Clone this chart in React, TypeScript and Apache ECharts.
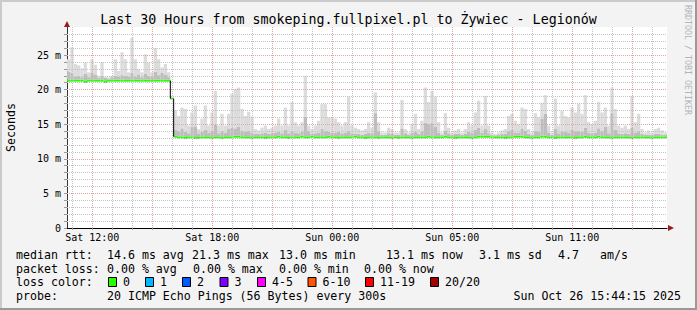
import React, { useEffect, useRef } from 'react';
import * as echarts from 'echarts';

// time axis: hours elapsed since Sat 00:00 (local, CEST)
const START_HOUR = 10.7375; // Sat 10:44:15
const SPAN_HOURS = 30;
const X_TICK_HOURS = [12, 18, 24, 30, 36];
const X_TICK_LABELS = ['Sat 12:00', 'Sat 18:00', 'Sun 00:00', 'Sun 05:00', 'Sun 11:00'];
const Y_TICKS = [0, 5, 10, 15, 20, 25];
const Y_MAX = 29.05;

// one value per 10-minute column (180 columns), milliseconds
const median = [
  21.3, 21.3, 21.3, 21.3, 21.3, 21.1, 21.3, 21.3, 21.3, 21.3, 21.3, 21.1, 21.3, 21.3, 21.3,
  21.3, 21.3, 21.3, 21.3, 21.3, 21.3, 21.3, 21.3, 21.3, 21.3, 21.3, 21.3, 21.3, 21.3, 21.3,
  21.3, 18.7,
  13.2, 13.1, 13.1, 13.0, 13.1, 13.1, 13.0, 13.0, 13.1, 13.1, 13.1, 13.0, 13.1, 13.1, 13.0,
  13.1, 13.1, 13.1, 13.2, 13.2, 13.1, 13.1, 13.1, 13.0, 13.1, 13.1, 13.1, 13.0, 13.1, 13.1,
  13.1, 13.2, 13.1, 13.1, 13.0, 13.1, 13.1, 13.1, 13.2, 13.1, 13.1, 13.2, 13.1, 13.1, 13.1,
  13.1, 13.2, 13.1, 13.1, 13.0, 13.1, 13.1, 13.1, 13.1, 13.2, 13.1, 13.1, 13.0, 13.1, 13.1,
  13.1, 13.0, 13.1, 13.1, 13.1, 13.0, 13.1, 13.0, 13.1, 13.1, 13.1, 13.0, 13.1, 13.1, 13.1,
  13.1, 13.2, 13.1, 13.1, 13.1, 13.1, 13.2, 13.1, 13.1, 13.0, 13.1, 13.1, 13.1, 13.1, 13.0,
  13.1, 13.2, 13.2, 13.2, 13.2, 13.1, 13.1, 13.1, 13.1, 13.0, 13.1, 13.1, 13.2, 13.2, 13.2,
  13.1, 13.1, 13.0, 13.1, 13.1, 13.2, 13.2, 13.1, 13.1, 13.0, 13.1, 13.1, 13.1, 13.1, 13.1,
  13.0, 13.1, 13.1, 13.2, 13.1, 13.1, 13.1, 13.2, 13.1, 13.1, 13.1, 13.0, 13.1, 13.1, 13.1,
  13.1, 13.1, 13.0, 13.1, 13.1, 13.1, 13.1, 13.1, 13.0, 13.1, 13.1, 13.1, 13.1,
];

// darker smoke (inner pings)
const smokeMid = [
  22.6, 22.4, 21.9, 22.0, 21.8, 22.3, 21.8, 22.5, 22.2, 21.7, 22.0, 21.7, 21.6, 21.8, 22.0,
  21.9, 22.1, 22.0, 21.9, 22.4, 21.9, 22.2, 21.8, 22.3, 22.0, 21.9, 22.6, 22.1, 22.4, 22.2,
  21.8, 18.9,
  14.2, 14.0, 14.4, 13.9, 13.7, 14.6, 14.7, 13.7, 13.9, 14.2, 13.8, 14.0, 14.9,
  13.7, 14.0, 13.8, 14.3, 14.5, 14.4, 14.6, 14.1, 13.9, 14.0, 13.8, 13.6, 13.6, 13.7, 13.8,
  13.6, 13.7, 13.8, 13.9, 13.7, 14.2, 13.7, 14.0, 13.8, 13.7, 13.9, 16.1, 14.0, 13.6, 13.7,
  13.8, 14.3, 14.0, 13.9, 13.8, 13.8, 13.9, 13.7, 13.8, 14.1, 13.7, 13.6, 13.6, 13.5, 13.6,
  13.8, 13.7, 16.6, 14.0, 13.5, 13.5, 13.7, 13.6, 13.5, 13.5, 14.4, 13.7, 13.5, 13.8, 13.9,
  13.6, 14.0, 15.2, 15.0, 15.2, 14.6, 13.8, 13.5, 14.1, 13.7, 13.5, 13.6, 13.6, 13.5, 13.6,
  13.9, 13.8, 14.2, 14.5, 13.8, 14.3, 13.7, 13.5, 13.4, 13.5, 13.6, 13.6, 14.0, 14.2, 13.8,
  13.8, 14.4, 14.1, 13.6, 13.5, 14.0, 13.9, 15.8, 16.5, 13.8, 13.5, 14.3, 13.7, 14.0, 13.9,
  13.8, 14.2, 14.0, 14.1, 13.9, 14.5, 13.8, 13.7, 13.8, 14.4, 14.0, 14.6, 13.7, 16.6, 14.2,
  13.7, 13.6, 13.7, 13.6, 14.5, 13.8, 14.0, 13.6, 13.5, 13.5, 13.5, 13.6, 13.6, 13.5, 13.5,
];

// light smoke (slowest ping)
const smokeHigh = [
  24.4, 26.1, 23.7, 23.5, 23.1, 23.9, 22.5, 24.4, 23.6, 22.0, 24.0, 21.9, 21.8, 22.0, 24.4,
  22.7, 25.4, 24.4, 22.5, 27.5, 24.4, 23.0, 22.5, 25.1, 23.9, 22.5, 26.0, 24.4, 23.2, 23.7,
  22.5, 19.0, 17.0, 16.2, 17.4, 17.2, 14.8, 16.7, 17.7, 14.3, 15.8, 17.7, 14.8, 16.7, 19.8,
  14.8, 16.5, 14.8, 16.5, 19.4, 20.1, 20.3, 17.2, 16.2, 16.8, 16.1, 14.3, 14.1, 14.5, 14.8,
  14.3, 14.5, 14.8, 15.8, 14.8, 17.4, 14.8, 18.2, 15.3, 14.8, 15.3, 22.0, 14.8, 14.3, 14.8,
  15.5, 17.9, 17.9, 16.0, 16.0, 15.8, 15.3, 14.8, 15.3, 19.0, 14.8, 14.5, 14.3, 14.1, 14.3,
  15.3, 14.5, 19.6, 15.3, 13.8, 13.8, 14.5, 14.3, 13.8, 13.8, 18.5, 14.3, 13.8, 15.0, 16.5,
  14.3, 15.5, 20.3, 18.2, 19.8, 19.0, 15.3, 13.8, 16.6, 14.5, 13.8, 14.1, 14.3, 13.8, 14.3,
  15.3, 14.8, 16.7, 18.4, 14.8, 19.1, 14.8, 13.8, 13.6, 13.8, 14.1, 14.3, 16.2, 16.5, 15.5,
  15.0, 17.4, 17.2, 14.3, 13.8, 16.6, 16.0, 18.1, 19.2, 14.8, 13.8, 18.7, 14.8, 16.95, 16.2,
  16.0, 17.4, 16.7, 18.0, 16.5, 19.2, 15.3, 15.0, 15.5, 18.2, 16.7, 17.4, 14.8, 20.3, 17.2,
  14.8, 14.5, 14.8, 14.3, 19.1, 15.3, 16.5, 14.3, 13.8, 14.1, 13.8, 14.3, 14.5, 14.1, 13.8,
];

const TITLE = 'Last 30 Hours from smokeping.fullpixel.pl to Żywiec - Legionów';
const rttStats = ['14.6 ms avg', '21.3 ms max', '13.0 ms min', '13.1 ms now', '3.1 ms sd', '4.7', 'am/s'];
const lossStats = ['0.00 % avg', '0.00 % max', '0.00 % min', '0.00 % now'];
const lossLabels = ['0', '1', '2', '3', '4-5', '6-10', '11-19', '20/20'];
const lossColors = ['#26ff00', '#00b8ff', '#0059ff', '#7e00ff', '#ff00ff', '#ff5500', '#ff0000', '#a10000'];
const PROBE = '20 ICMP Echo Pings (56 Bytes) every 300s';
const STAMP = 'Sun Oct 26 15:44:15 2025';

const MONO = '"DejaVu Sans Mono", monospace';
const LINE_HALF = 0.15;

export default function App() {
  const ref = useRef<HTMLDivElement>(null);

  useEffect(() => {
    if (!ref.current) return;
    const chart = echarts.init(ref.current, null, { renderer: 'svg' });

    const n = median.length;
    const cats = median.map((_, i) => String(i));
    const stepH = SPAN_HOURS / n;

    const base = median.map((m) => m - LINE_HALF);
    const green = median.map(() => 2 * LINE_HALF);
    const dark = median.map((m, i) => Math.max(0, smokeMid[i] - (m + LINE_HALF)));
    const light = median.map((m, i) => Math.max(0, smokeHigh[i] - Math.max(smokeMid[i], m + LINE_HALF)));

    // transitions where the median jumps by a lot: black vertical connectors
    const jumps: any[] = [];
    for (let i = 1; i < n; i++) {
      if (Math.abs(median[i] - median[i - 1]) > 1) {
        const t = START_HOUR + i * stepH;
        jumps.push({
          type: 'line',
          xAxisIndex: 1,
          yAxisIndex: 0,
          data: [[t, median[i - 1]], [t, median[i]]],
          showSymbol: false,
          lineStyle: { color: '#000', width: 1 },
          z: 5,
          silent: true,
        });
      }
    }

    const RED = '#e6a3a3';
    const GREY = '#c4c4c4';
    const gridLines: any[] = [];
    for (let h = Math.ceil(START_HOUR); h < START_HOUR + SPAN_HOURS; h++) {
      gridLines.push({ xAxis: h, lineStyle: { color: h % 3 === 0 ? RED : GREY, type: [1, 1], width: 1 } });
    }
    for (let v = 1; v < Y_MAX - 0.5; v++) {
      gridLines.push({ yAxis: v, lineStyle: { color: v % 5 === 0 ? RED : GREY, type: [1, 1], width: 1 } });
    }

    const yTickVals: number[] = [];
    for (let v = 0; v < Y_MAX - 0.5; v++) yTickVals.push(v);
    const xTickVals: number[] = [];
    for (let h = Math.ceil(START_HOUR); h < START_HOUR + SPAN_HOURS; h++) xTickVals.push(h);

    const graphic: any[] = [];
    // frame
    graphic.push({ type: 'rect', shape: { x: 0, y: 0, width: 697, height: 2 }, style: { fill: '#cbcbcb' }, silent: true });
    graphic.push({ type: 'rect', shape: { x: 0, y: 0, width: 2, height: 310 }, style: { fill: '#cbcbcb' }, silent: true });
    graphic.push({ type: 'rect', shape: { x: 695, y: 0, width: 2, height: 310 }, style: { fill: '#999' }, silent: true });
    graphic.push({ type: 'rect', shape: { x: 0, y: 308, width: 697, height: 2 }, style: { fill: '#999' }, silent: true });
    // arrows
    graphic.push({ type: 'polygon', shape: { points: [[64, 27], [70, 27], [67, 21]] }, style: { fill: '#9b1c1c' }, silent: true, z: 10 });
    graphic.push({ type: 'polygon', shape: { points: [[668, 225], [668, 231], [674, 228]] }, style: { fill: '#9b1c1c' }, silent: true, z: 10 });
    // title
    graphic.push({ type: 'text', style: { text: TITLE, x: 348.5, y: 19, align: 'center', verticalAlign: 'middle', font: `13.3px ${MONO}`, fill: '#000' } });
    // y name
    graphic.push({ type: 'text', x: 10.5, y: 127.5, rotation: Math.PI / 2, style: { text: 'Seconds', x: 0, y: 0, align: 'center', verticalAlign: 'middle', font: `11.6px ${MONO}`, fill: '#000' } });
    // watermark
    graphic.push({ type: 'text', x: 688, y: 60, rotation: -Math.PI / 2, style: { text: 'RRDTOOL / TOBI OETIKER', x: 0, y: 0, align: 'center', verticalAlign: 'middle', font: `8.3px ${MONO}`, fill: '#b4b4b4' } });

    const F = `11.6px ${MONO}`;
    const addText = (text: string, x: number, y: number, align = 'left') =>
      graphic.push({ type: 'text', style: { text, x, y, align, verticalAlign: 'middle', font: F, fill: '#000' } });

    const y1 = 254.5, y2 = 268.5, y3 = 282, y4 = 296;
    addText('median rtt:', 16, y1);
    const rttX = [107, 192, 279, 386, 479, 558, 600];
    rttStats.forEach((s, i) => addText(s, rttX[i], y1));
    addText('packet loss:', 16, y2);
    const lossX = [107, 193, 279, 364];
    lossStats.forEach((s, i) => addText(s, lossX[i], y2));
    addText('loss color:', 16, y3);
    const boxX = [108, 145, 182, 219.5, 257, 307.5, 365, 430];
    lossLabels.forEach((s, i) => {
      graphic.push({ type: 'rect', shape: { x: boxX[i] + 0.5, y: 277.5, width: 8, height: 9 }, style: { fill: lossColors[i], stroke: '#000', lineWidth: 1 }, silent: true });
      addText(s, boxX[i] + 15, y3);
    });
    addText('probe:', 16, y4);
    addText(PROBE, 107, y4);
    addText(STAMP, 681, y4, 'right');

    const option: any = {
      animation: false,
      backgroundColor: '#f3f3f3',
      grid: { left: 67, right: 30, top: 27, bottom: 82, show: true, backgroundColor: '#ffffff', borderWidth: 0 },
      xAxis: [
        {
          type: 'category',
          data: cats,
          position: 'top',
          show: false,
          boundaryGap: true,
        },
        {
          type: 'value',
          position: 'bottom',
          min: START_HOUR,
          max: START_HOUR + SPAN_HOURS,
          axisLine: { show: true, onZero: false, lineStyle: { color: '#000', width: 1 } },
          axisTick: { show: true, customValues: xTickVals, length: 2, lineStyle: { color: '#999' } },
          axisLabel: {
            show: true,
            customValues: X_TICK_HOURS,
            formatter: (v: number) => {
              const k = X_TICK_HOURS.findIndex((h) => Math.abs(h - v) < 1e-6);
              return k >= 0 ? X_TICK_LABELS[k] : '';
            },
            fontFamily: MONO,
            fontSize: 10,
            color: '#000',
            margin: 4,
          },
          splitLine: { show: false },
        },
      ],
      yAxis: {
        type: 'value',
        min: 0,
        max: Y_MAX,
        axisLine: { show: true, lineStyle: { color: '#333', width: 1 } },
        axisTick: { show: true, customValues: yTickVals, length: 3, lineStyle: { color: '#999' } },
        axisLabel: {
          customValues: Y_TICKS,
          formatter: (v: number) => (v === 0 ? '0' : `${v} m`),
          fontFamily: MONO,
          fontSize: 10,
          color: '#000',
          margin: 6,
        },
        splitLine: { show: false },
      },
      series: [
        {
          type: 'line',
          xAxisIndex: 1,
          yAxisIndex: 0,
          data: [[START_HOUR, 0]],
          showSymbol: false,
          lineStyle: { opacity: 0 },
          z: 1,
          silent: true,
          markLine: {
            silent: true,
            symbol: ['none', 'none'],
            label: { show: false },
            animation: false,
            data: gridLines,
          },
        },
        { type: 'bar', xAxisIndex: 0, stack: 's', data: base, itemStyle: { color: 'rgba(0,0,0,0)' }, barWidth: '100%', z: 2, silent: true },
        { type: 'bar', xAxisIndex: 0, stack: 's', data: green, itemStyle: { color: '#26ff00' }, barWidth: '100%', z: 2, silent: true },
        { type: 'bar', xAxisIndex: 0, stack: 's', data: dark, itemStyle: { color: '#bdbdbd' }, barWidth: '100%', z: 2, silent: true },
        { type: 'bar', xAxisIndex: 0, stack: 's', data: light, itemStyle: { color: '#dcdcdc' }, barWidth: '100%', z: 2, silent: true },
        ...jumps,
      ],
      graphic,
    };

    chart.setOption(option);
    return () => chart.dispose();
  }, []);

  return <div ref={ref} style={{ position: 'fixed', left: 0, top: 0, width: 697, height: 310 }} />;
}
